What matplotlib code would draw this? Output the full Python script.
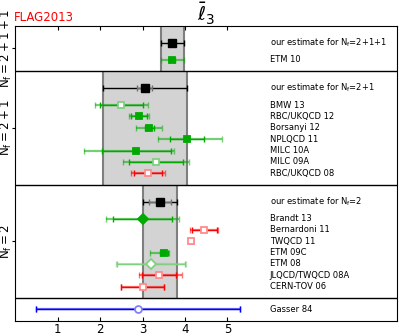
import matplotlib
matplotlib.use("Agg")
import matplotlib.pyplot as plt

# values for l3-bar
skupiny = ['$\\mathrm{N_f=2+1+1}$', '$\\mathrm{N_f=2+1}$', '$\\mathrm{N_f=2}$']
odhad_popisky = ['our estimate for N$_\\mathrm{f}$=2+1+1',
                 'our estimate for N$_\\mathrm{f}$=2+1',
                 'our estimate for N$_\\mathrm{f}$=2']
odhad_hodnoty = [3.70, 3.05, 3.41]
odhad_stat = [0.07, 0.17, 0.26]
odhad_celk = [0.27, 0.99, 0.41]

popisky_4 = ['ETM 10']
hodnoty_4 = [3.70]
stat_4 = [0.07]
dole_4 = [0.27]
nahore_4 = [0.27]
druh_4 = ['plny']

popisky_3 = ['BMW 13', 'RBC/UKQCD 12', 'Borsanyi 12', 'NPLQCD 11',
             'MILC 10A', 'MILC 09A', 'RBC/UKQCD 08']
hodnoty_3 = [2.50, 2.91, 3.16, 4.04, 2.85, 3.32, 3.13]
stat_3 = [0.50, 0.19, 0.10, 0.40, 0.81, 0.64, 0.33]
dole_3 = [0.63, 0.24, 0.31, 0.68, 1.23, 0.78, 0.41]
nahore_3 = [0.63, 0.24, 0.31, 0.83, 0.89, 0.78, 0.41]
druh_3 = ['prazdny', 'plny', 'plny', 'plny', 'plny', 'prazdny', 'cerveny']

popisky_2 = ['Brandt 13', 'Bernardoni 11', 'TWQCD 11', 'ETM 09C',
             'ETM 08', 'JLQCD/TWQCD 08A', 'CERN-TOV 06']
hodnoty_2 = [3.00, 4.46, 4.15, 3.50, 3.20, 3.38, 3.00]
stat_2 = [0.70, 0.30, 0.035, 0.09, 0.80, 0.40, 0.50]
dole_2 = [0.86, 0.33, 0.04, 0.32, 0.82, 0.47, 0.51]
nahore_2 = [0.86, 0.33, 0.04, 0.13, 0.82, 0.56, 0.51]
druh_2 = ['plny_d', 'cerveny', 'cerveny', 'plny', 'prazdny_d', 'cerveny', 'cerveny']

popisky_fen = ['Gasser 84']
hodnoty_fen = [2.9]
chyby_fen = [2.4]

zelena = '#00aa00'
svetle_zelena = '#80d080'
cervena = '#ff0000'
svetle_cervena = '#ff8c8c'
modra = '#0000ff'
svetle_modra = '#8080ff'

styly = {
    'plny': dict(marker='s', mfc=zelena, mec=zelena, c1=zelena, c2=zelena),
    'prazdny': dict(marker='s', mfc='white', mec=svetle_zelena, c1=zelena, c2=zelena),
    'cerveny': dict(marker='s', mfc='white', mec=svetle_cervena, c1=cervena, c2=cervena),
    'plny_d': dict(marker='D', mfc=zelena, mec=zelena, c1=zelena, c2=zelena),
    'prazdny_d': dict(marker='D', mfc='white', mec=svetle_zelena, c1=svetle_zelena, c2=svetle_zelena),
}

fig = plt.figure(figsize=(3.99, 3.35), dpi=100)
ax = fig.add_axes([0.0383, 0.0427, 0.9567, 0.8805])


def bod(y, x, st, lo, hi, marker, mfc, mec, c1, c2, ms=5):
    # total error lighter, stat error on top
    ax.errorbar([x], [y], xerr=[[lo], [hi]], fmt='none', ecolor=c2, alpha=0.55,
                elinewidth=1.6, capsize=2.5, capthick=1.0)
    ax.errorbar([x], [y], xerr=[[st], [st]], fmt='none', ecolor=c1,
                elinewidth=1.0, capsize=2.5, capthick=1.0)
    ax.plot([x], [y], marker=marker, ms=ms, mfc=mfc, mec=mec, mew=1.3, ls='none')


data = [
    (popisky_4, hodnoty_4, stat_4, dole_4, nahore_4, druh_4),
    (popisky_3, hodnoty_3, stat_3, dole_3, nahore_3, druh_3),
    (popisky_2, hodnoty_2, stat_2, dole_2, nahore_2, druh_2),
]

x_text = 6.0
pozice = -0.5
stredy = []
for i, (pop, hod, st, lo, hi, dr) in enumerate(data):
    zacatek = pozice
    konec = pozice + 3.0 + len(pop)
    stredy.append((zacatek + konec) / 2)
    # grey band of our estimate
    a = odhad_hodnoty[i] - odhad_celk[i]
    b = odhad_hodnoty[i] + odhad_celk[i]
    ax.fill_betweenx([zacatek, konec], a, b, color='#d3d3d3', lw=0, zorder=0)
    ax.vlines([a, b], zacatek, konec, color='#7f7f7f', lw=1.5, zorder=1)
    y_odhad = pozice + 1.5
    ax.errorbar([odhad_hodnoty[i]], [y_odhad], xerr=odhad_celk[i], fmt='none',
                ecolor='black', elinewidth=1.0, capsize=2.5)
    ax.errorbar([odhad_hodnoty[i]], [y_odhad], xerr=odhad_stat[i], fmt='none',
                ecolor='#707070', elinewidth=1.0, capsize=2.5)
    ax.plot([odhad_hodnoty[i]], [y_odhad], 's', ms=5.5, color='black')
    ax.text(x_text, y_odhad, odhad_popisky[i], fontsize=6, va='center')
    for j in range(len(pop)):
        y = pozice + 3.0 + j
        bod(y, hod[j], st[j], lo[j], hi[j], **styly[dr[j]])
        ax.text(x_text, y, pop[j], fontsize=6, va='center')
    pozice = konec
    ax.axhline(pozice, color='black', lw=1.0)

# phenomenology
for j in range(len(popisky_fen)):
    y = pozice + 1.0 + j
    bod(y, hodnoty_fen[j], chyby_fen[j], chyby_fen[j], chyby_fen[j], 'o',
        'white', svetle_modra, modra, modra)
    ax.text(x_text, y, popisky_fen[j], fontsize=6, va='center')
pozice = pozice + 1.0 + len(popisky_fen)

ax.set_xlim(0, 9)
ax.set_ylim(pozice, -0.5)
ax.set_xticks([1, 2, 3, 4, 5])
ax.tick_params(axis='x', direction='in', top=True, labelsize=8.5, length=3, pad=2)
ax.set_yticks(stredy)
ax.set_yticklabels(skupiny, rotation=90, va='center', fontsize=8.5)
ax.tick_params(axis='y', length=2, pad=-1)
ax.set_title(r'$\bar{\ell}_3$', fontsize=14, pad=3)
fig.text(14 / 399, 1 - 21 / 335, 'FLAG2013', color='red', fontsize=8.5)

plt.savefig('out.png', dpi=100)
